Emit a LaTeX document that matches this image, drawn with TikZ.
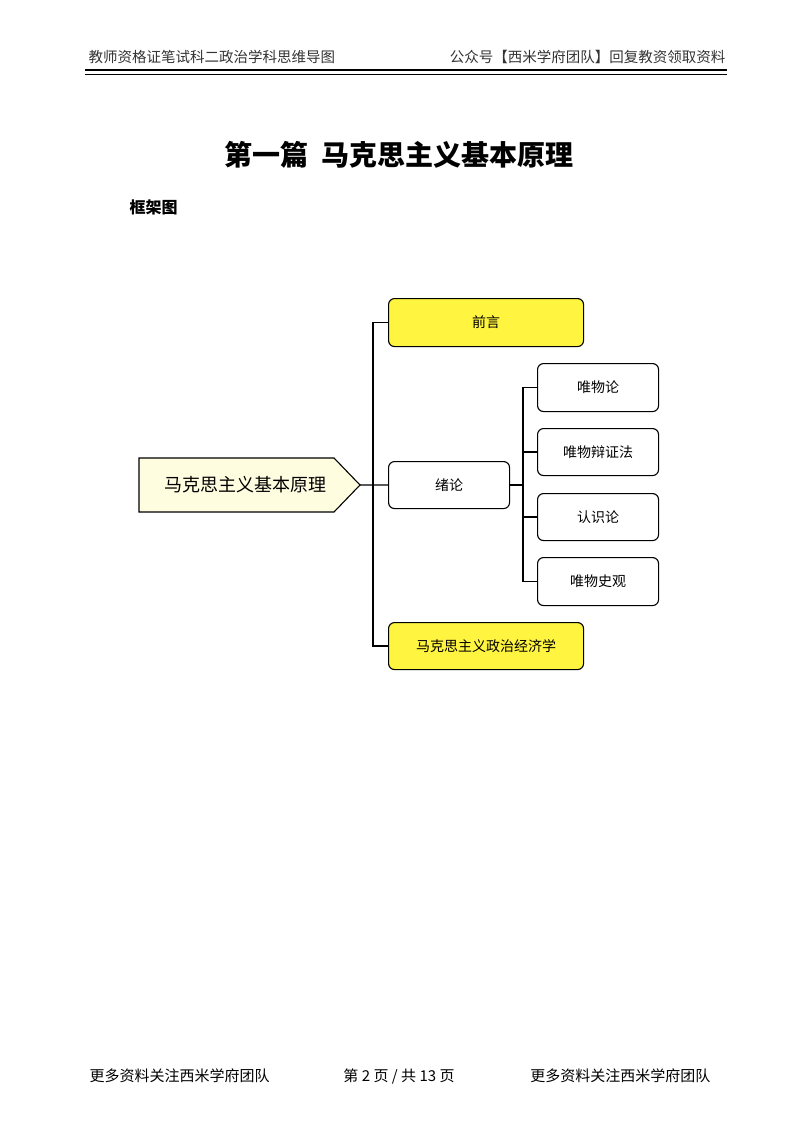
\documentclass[tikz,border=0pt]{standalone}
\usepackage{fontspec}
\setmainfont{Noto Sans CJK SC}
\begin{document}
\begin{tikzpicture}[x=1pt,y=-1pt,
  box/.style={draw=black,line width=1.1pt,rounded corners=6pt,minimum height=48pt,font=\fontsize{14}{14}\selectfont},
  yel/.style={box,fill=yellow!75!white,minimum width=195pt},
  wht/.style={box,fill=white},
  link/.style={line width=1.3pt}]
\useasboundingbox (0,0) rectangle (800,1124);
\node[anchor=west,font=\fontsize{14.5}{14.5}\selectfont,text=black!80] (hl) at (85,57) {教师资格证笔试科二政治学科思维导图};
\node[anchor=east,font=\fontsize{14.5}{14.5}\selectfont,text=black!80] (hr) at (729,57) {公众号【西米学府团队】回复教资领取资料};
\draw[line width=2.4pt] (85,70) -- (727,70);
\draw[line width=0.8pt] (85,74) -- (727,74);
\node[font=\fontsize{28}{28}\selectfont\bfseries] (title) at (399,155) {第一篇\ \ 马克思主义基本原理};
\node[anchor=west,font=\fontsize{16}{16}\selectfont\bfseries] (fk) at (126,207) {框架图};
\draw[line width=1.1pt,fill=yellow!12!white] (139,458) -- (334,458) -- (360,485) -- (334,512) -- (139,512) -- cycle;
\node[font=\fontsize{18}{18}\selectfont] (main) at (245,485) {马克思主义基本原理};
\coordinate (mtip) at (360,485);
\node[yel,anchor=north west,minimum height=48pt] (qy) at (388,298) {前言};
\node[wht,anchor=north west,minimum width=121pt,minimum height=47pt] (xl) at (388,461) {绪论};
\node[yel,anchor=north west,minimum height=47pt] (zz) at (388,622) {马克思主义政治经济学};
\node[wht,anchor=north west,minimum width=121pt] (l1) at (537,363) {唯物论};
\node[wht,anchor=north west,minimum width=121pt,minimum height=47pt] (l2) at (537,428) {唯物辩证法};
\node[wht,anchor=north west,minimum width=121pt,minimum height=47pt] (l3) at (537,493) {认识论};
\node[wht,anchor=north west,minimum width=121pt] (l4) at (537,557) {唯物史观};
\draw[link] (mtip) -- (xl.west);
\draw[link] (qy.west) -- ++(-15,0) |- (zz.west);
\draw[link] (xl.east) -- ++(14,0);
\draw[link] (l1.west) -- ++(-14,0) |- (l4.west);
\draw[link] (l2.west) -- ++(-14,0);
\draw[link] (l3.west) -- ++(-14,0);
\node[anchor=west,font=\fontsize{15}{15}\selectfont] (fl) at (86,1076) {更多资料关注西米学府团队};
\node[font=\fontsize{15}{15}\selectfont] (fc) at (399,1076) {第 2 页 / 共 13 页};
\node[anchor=east,font=\fontsize{15}{15}\selectfont] (fr) at (714,1076) {更多资料关注西米学府团队};
\end{tikzpicture}
\end{document}
